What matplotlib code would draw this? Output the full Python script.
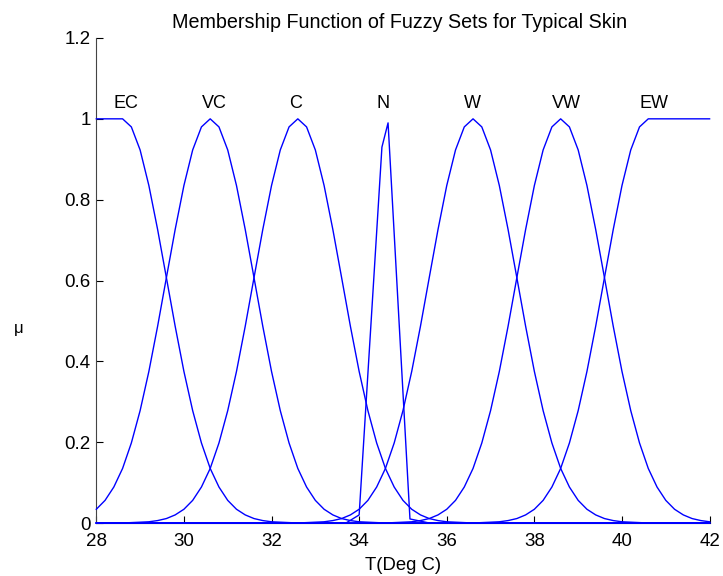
import numpy as np
import matplotlib
matplotlib.use("Agg")
import matplotlib.pyplot as plt

plt.rcParams['font.family'] = ['Liberation Sans', 'DejaVu Sans']

# sampling grid 28.0 .. 42.0 step 0.2 (71 points)
x = np.linspace(28.0, 42.0, 71)

ec = [1, 1, 1, 1, 0.980, 0.923, 0.835, 0.726, 0.607, 0.487,
      0.375, 0.278, 0.198, 0.135, 0.089, 0.056, 0.034, 0.020, 0.011, 0.006,
      0.003, 0.002, 0.001, 0, 0, 0, 0, 0, 0, 0,
      0, 0, 0, 0, 0, 0, 0, 0, 0, 0,
      0, 0, 0, 0, 0, 0, 0, 0, 0, 0,
      0, 0, 0, 0, 0, 0, 0, 0, 0, 0,
      0, 0, 0, 0, 0, 0, 0, 0, 0, 0,
      0]

vc = [0.034, 0.056, 0.089, 0.135, 0.198, 0.278, 0.375, 0.487, 0.607, 0.726,
      0.835, 0.923, 0.980, 1.000, 0.980, 0.923, 0.835, 0.726, 0.607, 0.487,
      0.375, 0.278, 0.198, 0.135, 0.089, 0.056, 0.034, 0.020, 0.011, 0.006,
      0.003, 0.002, 0.001, 0, 0, 0, 0, 0, 0, 0,
      0, 0, 0, 0, 0, 0, 0, 0, 0, 0,
      0, 0, 0, 0, 0, 0, 0, 0, 0, 0,
      0, 0, 0, 0, 0, 0, 0, 0, 0, 0,
      0]

c = [0, 0, 0, 0, 0.001, 0.002, 0.003, 0.006, 0.011, 0.020,
     0.034, 0.056, 0.089, 0.135, 0.198, 0.278, 0.375, 0.487, 0.607, 0.726,
     0.835, 0.923, 0.980, 1.000, 0.980, 0.923, 0.835, 0.726, 0.607, 0.487,
     0.375, 0.278, 0.198, 0.135, 0.089, 0.056, 0.034, 0.020, 0.011, 0.006,
     0.003, 0.002, 0.001, 0, 0, 0, 0, 0, 0, 0,
     0, 0, 0, 0, 0, 0, 0, 0, 0, 0,
     0, 0, 0, 0, 0, 0, 0, 0, 0, 0,
     0]

w = [0, 0, 0, 0, 0, 0, 0, 0, 0, 0,
     0, 0, 0, 0, 0, 0, 0, 0, 0, 0,
     0, 0, 0, 0, 0.001, 0.002, 0.003, 0.006, 0.011, 0.020,
     0.034, 0.056, 0.089, 0.135, 0.198, 0.278, 0.375, 0.487, 0.607, 0.726,
     0.835, 0.923, 0.980, 1.000, 0.980, 0.923, 0.835, 0.726, 0.607, 0.487,
     0.375, 0.278, 0.198, 0.135, 0.089, 0.056, 0.034, 0.020, 0.011, 0.006,
     0.003, 0.002, 0.001, 0, 0, 0, 0, 0, 0, 0,
     0]

vw = [0, 0, 0, 0, 0, 0, 0, 0, 0, 0,
      0, 0, 0, 0, 0, 0, 0, 0, 0, 0,
      0, 0, 0, 0, 0, 0, 0, 0, 0, 0,
      0, 0, 0, 0, 0.001, 0.002, 0.003, 0.006, 0.011, 0.020,
      0.034, 0.056, 0.089, 0.135, 0.198, 0.278, 0.375, 0.487, 0.607, 0.726,
      0.835, 0.923, 0.980, 1.000, 0.980, 0.923, 0.835, 0.726, 0.607, 0.487,
      0.375, 0.278, 0.198, 0.135, 0.089, 0.056, 0.034, 0.020, 0.011, 0.006,
      0.003]

ew = [0, 0, 0, 0, 0, 0, 0, 0, 0, 0,
      0, 0, 0, 0, 0, 0, 0, 0, 0, 0,
      0, 0, 0, 0, 0, 0, 0, 0, 0, 0,
      0, 0, 0, 0, 0, 0, 0, 0, 0, 0,
      0, 0, 0, 0, 0.001, 0.002, 0.003, 0.006, 0.011, 0.020,
      0.034, 0.056, 0.089, 0.135, 0.198, 0.278, 0.375, 0.487, 0.607, 0.726,
      0.835, 0.923, 0.980, 1, 1, 1, 1, 1, 1, 1,
      1]

# narrow "N" set, sampled coarsely
n_x = [28.0, 33.7, 34.0, 34.52, 34.66, 35.16, 35.6, 42.0]
n_y = [0, 0, 0.02, 0.93, 0.99, 0.01, 0, 0]

set_names = ['EC', 'VC', 'C', 'N', 'W', 'VW', 'EW']
set_centers = [28.6, 30.6, 32.6, 34.6, 36.6, 38.6, 40.6]

x_ticks = [28, 30, 32, 34, 36, 38, 40, 42]
y_ticks = [0, 0.2, 0.4, 0.6, 0.8, 1, 1.2]
y_ticklabels = ['0', '0.2', '0.4', '0.6', '0.8', '1', '1.2']

W_PX, H_PX = 723, 576
fig = plt.figure(figsize=(W_PX / 100, H_PX / 100), dpi=100)
ax = fig.add_axes([96.3 / W_PX, 53 / H_PX, (709.6 - 96.3) / W_PX, (523 - 38) / H_PX])

blue = '#0000ff'
for ys in [ec, vc, c, w, vw, ew]:
    ax.plot(x, ys, color=blue, lw=1.0, zorder=3, clip_on=False)
ax.plot(n_x, n_y, color=blue, lw=1.0, zorder=3, clip_on=False)

for name, cx in zip(set_names, set_centers):
    ax.text(cx - 0.2, 1.027, name, ha='left', va='baseline', fontsize=13)

ax.set_xlim(28, 42)
ax.set_ylim(0, 1.2)
ax.set_xticks(x_ticks)
ax.set_xticklabels([str(t) for t in x_ticks])
ax.set_yticks(y_ticks)
ax.set_yticklabels(y_ticklabels)
ax.tick_params(direction='in', length=5, width=0.8, labelsize=13.5, colors='black')
ax.tick_params(axis='x', pad=7)
ax.tick_params(axis='y', pad=4)
ax.spines['top'].set_visible(False)
ax.spines['right'].set_visible(False)
ax.spines['left'].set_color('#444444')
ax.spines['bottom'].set_color('black')

fig.text(400 / W_PX, 1 - 27.5 / H_PX, 'Membership Function of Fuzzy Sets for Typical Skin',
         ha='center', va='baseline', fontsize=14.2)
fig.text(403 / W_PX, 1 - 569.5 / H_PX, 'T(Deg C)', ha='center', va='baseline',
         fontsize=13.3)
fig.text(19 / W_PX, 1 - 328 / H_PX, 'μ', ha='center', va='center', fontsize=12)

fig.savefig('out.png', dpi=100)
